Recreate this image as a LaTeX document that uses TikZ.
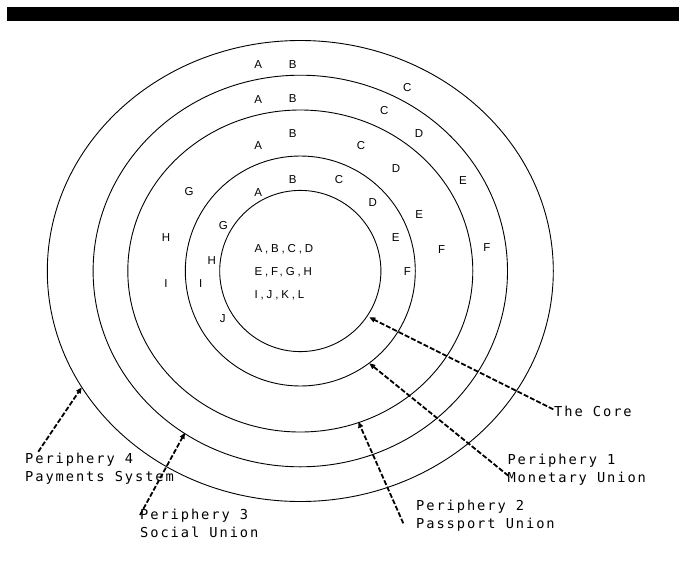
\documentclass[tikz,border=0pt]{standalone}
\usepackage{fontspec}
\setmainfont{Liberation Sans}
\newfontfamily\lblfont[LetterSpace=14]{DejaVu Sans Mono}
\newfontfamily\corefont[LetterSpace=25]{Liberation Sans}
\usetikzlibrary{arrows.meta}

\begin{document}
\begin{tikzpicture}[x=1pt,y=-1pt,
  ring/.style={draw=black, line width=0.9pt},
  ltr/.style={font=\fontsize{11.5}{13}\selectfont, inner sep=0pt},
  coretxt/.style={font=\corefont\fontsize{11.5}{13}\selectfont, inner sep=0pt, anchor=west},
  lbl/.style={font=\lblfont\fontsize{13.7}{17.4}\selectfont, align=left, inner sep=0pt, anchor=north west},
  arr/.style={line width=1.8pt, dash pattern=on 5pt off 2pt, -{Triangle[length=6pt,width=5pt]}}
]
\useasboundingbox (0,0) rectangle (679,565);
\fill[black] (7,7) rectangle (679,21);

% concentric rings
\coordinate (o) at (300.3,271);
\draw[ring] (o) circle [radius=80.6];
\draw[ring] (o) circle [radius=115];
\draw[ring] (o) ellipse [x radius=172.5, y radius=161];
\draw[ring] (o) ellipse [x radius=207.2, y radius=195.8];
\draw[ring] (o) ellipse [x radius=253, y radius=230.5];

% core members
\node[coretxt] (c1) at (254.3,249.3) {A,B,C,D};
\node[coretxt] (c2) at (254.3,272.3) {E,F,G,H};
\node[coretxt] (c3) at (254.3,295.7) {I,J,K,L};

% ring 2
\node[ltr] (r2a) at (258.3,192.3) {A};
\node[ltr] (r2b) at (292.7,179.3) {B};
\node[ltr] (r2c) at (339,179.3) {C};
\node[ltr] (r2d) at (372.7,202.7) {D};
\node[ltr] (r2e) at (395.7,237.7) {E};
\node[ltr] (r2f) at (407.3,271.7) {F};
\node[ltr] (r2g) at (223.3,226) {G};
\node[ltr] (r2h) at (211.7,260.7) {H};
\node[ltr] (r2i) at (200.7,284) {I};
\node[ltr] (r2j) at (222.7,318.3) {J};

% ring 3
\node[ltr] (r3a) at (258.3,146) {A};
\node[ltr] (r3b) at (292.7,133.3) {B};
\node[ltr] (r3c) at (361,145.7) {C};
\node[ltr] (r3d) at (396,168.3) {D};
\node[ltr] (r3e) at (419.3,214.3) {E};
\node[ltr] (r3f) at (441.7,249.3) {F};
\node[ltr] (r3g) at (189,191.7) {G};
\node[ltr] (r3h) at (166,237.7) {H};
\node[ltr] (r3i) at (166,283.3) {I};

% ring 4
\node[ltr] (r4a) at (258.3,100) {A};
\node[ltr] (r4b) at (292.7,99) {B};
\node[ltr] (r4c) at (384.3,111) {C};
\node[ltr] (r4d) at (419,133.3) {D};
\node[ltr] (r4e) at (463,181) {E};
\node[ltr] (r4f) at (487,248) {F};

% ring 5
\node[ltr] (r5a) at (258.3,65) {A};
\node[ltr] (r5b) at (292.7,65) {B};
\node[ltr] (r5c) at (407.3,87.3) {C};

% callout labels
\node[lbl] (core) at (554,406) {The Core};
\node[lbl] (p1) at (507.3,454) {Periphery 1\\Monetary Union};
\node[lbl] (p2) at (416,500) {Periphery 2\\Passport Union};
\node[lbl] (p3) at (140,509.3) {Periphery 3\\Social Union};
\node[lbl] (p4) at (25,453.3) {Periphery 4\\Payments System};

% callout arrow ends
\coordinate (s0) at (553.3,409.3);
\coordinate (t0) at (369.3,317.3);
\coordinate (s1) at (508.3,475.7);
\coordinate (t1) at (369.3,363.3);
\coordinate (s2) at (403.3,523.3);
\coordinate (t2) at (358.3,421.7);
\coordinate (s3) at (140,515);
\coordinate (t3) at (185,432.7);
\coordinate (s4) at (38.3,451.7);
\coordinate (t4) at (81.7,387.3);

\draw[arr] (s0) -- (t0);
\draw[arr] (s1) -- (t1);
\draw[arr] (s2) -- (t2);
\draw[arr] (s3) -- (t3);
\draw[arr] (s4) -- (t4);
\end{tikzpicture}
\end{document}
